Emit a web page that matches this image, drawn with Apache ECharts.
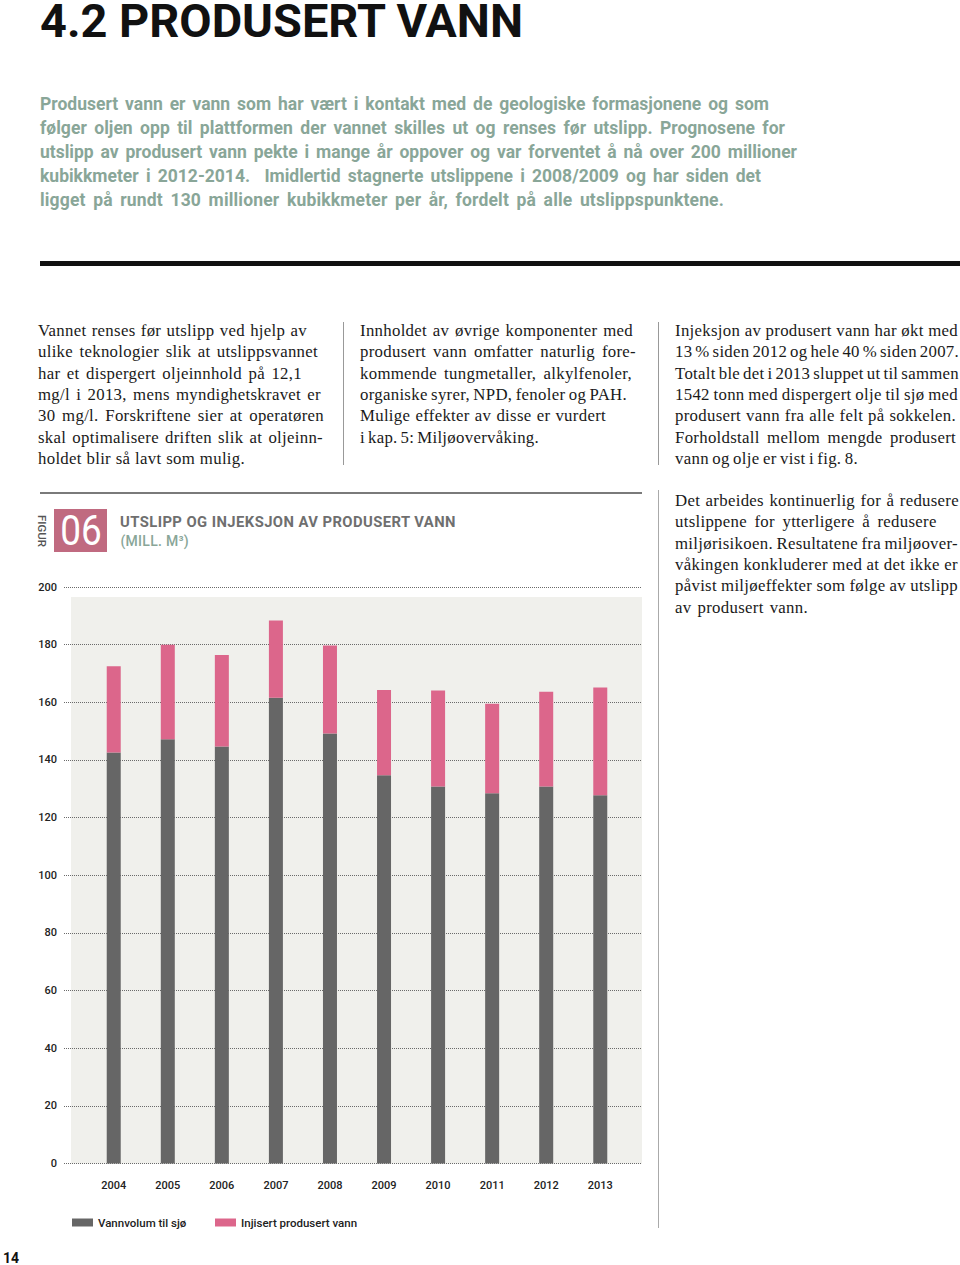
<!DOCTYPE html>
<html><head><meta charset="utf-8">
<script src="https://cdn.jsdelivr.net/npm/echarts@6/dist/echarts.min.js"></script>
<style>
html,body{margin:0;padding:0;background:#fff;}
#page{position:relative;width:960px;height:1265px;overflow:hidden;background:#fff;}
#chart{position:absolute;left:0;top:0;width:960px;height:1265px;}
.ln{position:absolute;white-space:pre;left:0;top:0;transform-origin:0 0;}
.title{font-family:Roboto,sans-serif;font-weight:700;font-size:47px;color:#111;line-height:36px;}
.intro{font-family:Roboto,sans-serif;font-weight:700;font-size:17.5px;color:#89a698;}
.body{font-family:"Liberation Serif",serif;font-size:16.8px;color:#1a1a1a;letter-spacing:0.3px;}
.ftitle{font-family:Roboto,sans-serif;font-weight:700;font-size:14.8px;color:#6f6f6f;}
.funit{font-family:Roboto,sans-serif;font-weight:500;font-size:14px;color:#89a698;}
.pnum{font-family:Roboto,sans-serif;font-weight:700;font-size:14px;color:#111;line-height:12px;}
.rule{position:absolute;}
#box{position:absolute;left:54px;top:509px;width:53px;height:43px;background:#c06a80;}
#box span{position:absolute;left:50%;top:50%;transform:translate(-50%,-50%) scaleX(0.88);font-family:Roboto,sans-serif;font-weight:400;font-size:42px;line-height:42px;color:#fff;white-space:nowrap;}
#figur{position:absolute;left:41.7px;top:531px;transform:translate(-50%,-50%) rotate(90deg);font-family:Roboto,sans-serif;font-weight:500;font-size:11.5px;line-height:12px;color:#555;white-space:nowrap;}
</style>
</head><body>
<div id="page">
  <div id="chart"></div>
</div>
<script>
// ---- chart data ----
const years = ['2004','2005','2006','2007','2008','2009','2010','2011','2012','2013'];
const seaVolume = [142.6, 147.2, 144.7, 161.6, 149.2, 134.7, 130.8, 128.5, 130.8, 127.8];
const injected = [29.9, 32.8, 31.7, 26.8, 30.5, 29.6, 33.3, 31.0, 32.9, 37.3];
const yTicks = {min: 0, max: 200, interval: 20};
const seriesNames = ['Vannvolum til sjø', 'Injisert produsert vann'];

// ---- page text ----
const titleLine = ['4.2 PRODUSERT VANN', 523];
const introLines = [
  ['Produsert vann er vann som har vært i kontakt med de geologiske formasjonene og som', 769],
  ['følger oljen opp til plattformen der vannet skilles ut og renses før utslipp. Prognosene for', 785],
  ['utslipp av produsert vann pekte i mange år oppover og var forventet å nå over 200 millioner', 797],
  ['kubikkmeter i 2012-2014.  Imidlertid stagnerte utslippene i 2008/2009 og har siden det', 761],
  ['ligget på rundt 130 millioner kubikkmeter per år, fordelt på alle utslippspunktene.', 724]
];
const col1 = [
  ['Vannet renses før utslipp ved hjelp av', 307],
  ['ulike teknologier slik at utslippsvannet', 318],
  ['har et dispergert oljeinnhold på 12,1', 302],
  ['mg/l i 2013, mens myndighetskravet er', 321],
  ['30 mg/l. Forskriftene sier at operatøren', 324],
  ['skal optimalisere driften slik at oljeinn-', 323],
  ['holdet blir så lavt som mulig.', 245]
];
const col2 = [
  ['Innholdet av øvrige komponenter med', 633],
  ['produsert vann omfatter naturlig fore-', 636],
  ['kommende tungmetaller, alkylfenoler,', 632],
  ['organiske syrer, NPD, fenoler og PAH.', 627],
  ['Mulige effekter av disse er vurdert', 606],
  ['i kap. 5: Miljøovervåking.', 539]
];
const col3a = [
  ['Injeksjon av produsert vann har økt med', 958],
  ['13 % siden 2012 og hele 40 % siden 2007.', 959],
  ['Totalt ble det i 2013 sluppet ut til sammen', 959],
  ['1542 tonn med dispergert olje til sjø med', 958],
  ['produsert vann fra alle felt på sokkelen.', 956],
  ['Forholdstall mellom mengde produsert', 956],
  ['vann og olje er vist i fig. 8.', 858]
];
const col3b = [
  ['Det arbeides kontinuerlig for å redusere', 959],
  ['utslippene for ytterligere å redusere', 937],
  ['miljørisikoen. Resultatene fra miljøover-', 958],
  ['våkingen konkluderer med at det ikke er', 958],
  ['påvist miljøeffekter som følge av utslipp', 958],
  ['av produsert vann.', 808]
];
const figTitle = ['UTSLIPP OG INJEKSJON AV PRODUSERT VANN', 456];
const figUnit = ['(MILL. M³)', 189];

const page = document.getElementById('page');

function place(text, x, base, cls, right, mode){
  const d = document.createElement('div');
  d.className = 'ln ' + cls;
  d.appendChild(document.createTextNode(text));
  const m = document.createElement('span');
  m.style.cssText = 'display:inline-block;width:0;height:0;vertical-align:baseline;letter-spacing:0';
  d.appendChild(m);
  page.appendChild(d);
  d.style.left = x + 'px';
  const b = m.offsetTop;
  d.style.top = (base - b) + 'px';
  if (right) {
    const natural = d.getBoundingClientRect().width;
    const baseLs = parseFloat(getComputedStyle(d).letterSpacing) || 0;
    const target = right - x;
    const diff = target - natural;
    if (mode === 'scale') {
      d.style.transform = 'scaleX(' + (target / natural) + ')';
    } else if (mode === 'letter') {
      d.style.letterSpacing = (baseLs + diff / text.length) + 'px';
    } else {
      const spaces = (text.match(/ /g) || []).length;
      let ws = spaces ? diff / spaces : 0;
      ws = Math.max(-1.5, Math.min(3, ws));
      d.style.wordSpacing = ws + 'px';
      const rem = diff - ws * spaces;
      if (Math.abs(rem) > 0.5) d.style.letterSpacing = (baseLs + rem / text.length) + 'px';
    }
  }
  return d;
}
function block(lines, x, base0, lh, cls){
  lines.forEach((l, i) => place(l[0], x, base0 + i * lh, cls, l[1]));
}
function rule(x, y, w, h, color){
  const r = document.createElement('div');
  r.className = 'rule';
  r.style.cssText += `left:${x}px;top:${y}px;width:${w}px;height:${h}px;background:${color};`;
  page.appendChild(r);
}

function layout(){
  place(titleLine[0], 40, 37, 'title', titleLine[1], 'scale');
  block(introLines, 40, 109.5, 24, 'intro');
  rule(40, 261, 920, 5, '#111');
  block(col1, 38, 336, 21.3, 'body');
  block(col2, 360, 336, 21.3, 'body');
  block(col3a, 675, 336, 21.3, 'body');
  block(col3b, 675, 506, 21.3, 'body');
  rule(343, 322, 1, 143, '#999');
  rule(658, 322, 1, 143, '#999');
  rule(40, 492, 602, 2, '#7a7a7a');
  rule(658, 490, 1, 738, '#aaa');
  const box = document.createElement('div'); box.id = 'box';
  box.innerHTML = '<span>06</span>'; page.appendChild(box);
  const fg = document.createElement('div'); fg.id = 'figur'; fg.textContent = 'FIGUR'; page.appendChild(fg);
  place(figTitle[0], 120, 527, 'ftitle', figTitle[1], 'letter');
  place(figUnit[0], 120.5, 545.7, 'funit', figUnit[1], 'letter');
  place('14', 3, 1263, 'pnum');
}

const chart = echarts.init(document.getElementById('chart'), null, {renderer: 'svg'});
const labelFont = {fontFamily: 'Roboto', fontSize: 11, fontWeight: 500, color: '#222'};
chart.setOption({
  animation: false,
  backgroundColor: 'transparent',
  grid: [
    {left: 64, top: 587, width: 578, height: 576.6},
    {left: 86.7, top: 587, width: 540.6, height: 576.6}
  ],
  graphic: [
    {type: 'rect', z: -10, silent: true, shape: {x: 71, y: 597, width: 571, height: 566.6}, style: {fill: '#f0f0ec'}}
  ],
  xAxis: [
    {gridIndex: 0, type: 'value', show: false},
    {gridIndex: 1, type: 'category', data: years, axisLine: {show: false}, axisTick: {show: false},
     axisLabel: Object.assign({margin: 16}, labelFont)}
  ],
  yAxis: [
    {gridIndex: 0, type: 'value', min: yTicks.min, max: yTicks.max, interval: yTicks.interval,
     axisLine: {show: false}, axisTick: {show: false},
     axisLabel: Object.assign({margin: 7}, labelFont),
     splitLine: {show: true, lineStyle: {type: [1, 1], color: '#6a6a6a', width: 1}}},
    {gridIndex: 1, type: 'value', min: yTicks.min, max: yTicks.max, show: false, splitLine: {show: false}}
  ],
  legend: [
    {data: [seriesNames[0]], left: 72, top: 1216.5, padding: 0, itemWidth: 21, itemHeight: 8, icon: 'rect',
     textStyle: Object.assign({}, labelFont, {fontSize: 11.5})},
    {data: [seriesNames[1]], left: 215, top: 1216.5, padding: 0, itemWidth: 21, itemHeight: 8, icon: 'rect',
     textStyle: Object.assign({}, labelFont, {fontSize: 11.5})}
  ],
  series: [
    {name: seriesNames[0], type: 'bar', xAxisIndex: 1, yAxisIndex: 1, stack: 'total', barWidth: 14,
     data: seaVolume, itemStyle: {color: '#666666'}},
    {name: seriesNames[1], type: 'bar', xAxisIndex: 1, yAxisIndex: 1, stack: 'total', barWidth: 14,
     data: injected, itemStyle: {color: '#dc668b'}}
  ]
});

layout();
</script>
</body></html>
